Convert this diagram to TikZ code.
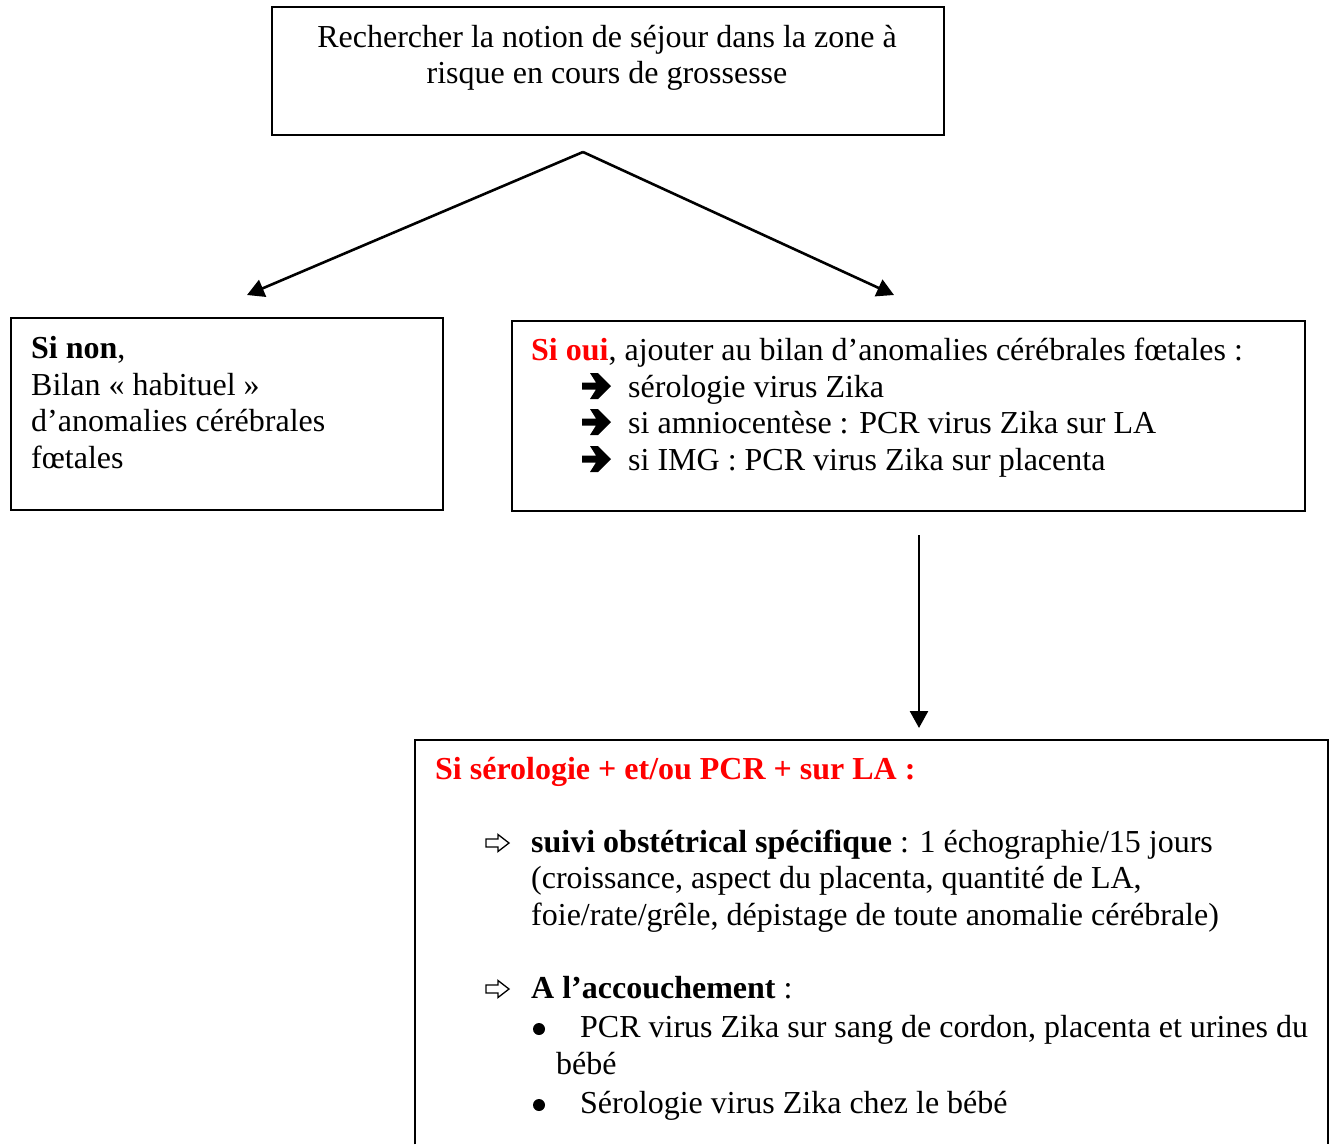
\documentclass[tikz,border=0pt]{standalone}
\usepackage{fontspec}
\setmainfont{Liberation Serif}
\usetikzlibrary{arrows.meta}
\definecolor{zred}{RGB}{255,0,0}
\tikzset{
  box/.style={draw=black, line width=2pt, inner sep=0pt, anchor=north west},
  txt/.style={anchor=base west, inner sep=0pt, font=\fontsize{32}{36.8}\selectfont},
  ctxt/.style={txt, anchor=base},
  conn/.style={line width=2.6pt, -{Triangle[length=17pt,width=18pt]}},
  heavyarrow/.pic={\fill[black] (0,-3.5) -- (14,-3.5) -- (8,-13) -- (16,-13) -- (29,0) -- (16,13) -- (8,13) -- (14,3.5) -- (0,3.5) -- cycle;},
  hollowarrow/.pic={\draw[black, line width=1.3pt, line join=miter] (0,-4) -- (12,-4) -- (12,-8.5) -- (23,0) -- (12,8.5) -- (12,4) -- (0,4) -- cycle;},
  bulletdot/.pic={\fill[black] (0,0) circle (6pt);},
}
\begin{document}
\begin{tikzpicture}[x=1pt,y=-1pt]
\useasboundingbox[fill=white] (0,0) rectangle (1336,1144);

% top box
\node[box, minimum width=672pt, minimum height=128pt] (top) at (271,6) {};
\node[ctxt] (t1) at (607,47) {Rechercher la notion de séjour dans la zone à};
\node[ctxt] (t2) at (607,83) {risque en cours de grossesse};

% connectors from top
\coordinate (split) at (583,152);
\coordinate (lend) at (247,295);
\coordinate (rend) at (894,295);
\draw[conn] (split) -- (lend);
\draw[conn] (split) -- (rend);

% left box
\node[box, minimum width=432pt, minimum height=192pt] (left) at (10,317) {};
\node[txt] (l1) at (31,358) {\textbf{Si non},};
\node[txt] (l2) at (31,395) {Bilan « habituel »};
\node[txt] (l3) at (31,431) {d’anomalies cérébrales};
\node[txt] (l4) at (31,468) {fœtales};

% right box
\node[box, minimum width=793pt, minimum height=190pt] (right) at (511,320) {};
\node[txt] (r1) at (531,360) {{\color{zred}\bfseries Si oui}, ajouter au bilan d’anomalies cérébrales fœtales :};
\pic at (582,386) {heavyarrow};
\node[txt] (r2) at (628,397) {sérologie virus Zika};
\pic at (582,422) {heavyarrow};
\node[txt] (r3) at (628,433) {si amniocentèse : PCR virus Zika sur LA};
\pic at (582,459) {heavyarrow};
\node[txt] (r4) at (628,470) {si IMG : PCR virus Zika sur placenta};

% vertical connector
\coordinate (vstart) at (919,535);
\coordinate (vend) at (919,728);
\draw[conn] (vstart) -- (vend);

% bottom box (open at the bottom edge of the picture)
\node[anchor=north west, inner sep=0pt, minimum width=913pt, minimum height=404pt] (bot) at (415,740) {};
\draw[line width=2pt] (bot.south west) -- (bot.north west) -- (bot.north east) -- (bot.south east);
\node[txt] (b0) at (435,779) {\color{zred}\bfseries Si sérologie + et/ou PCR + sur LA :};
\pic at (486,843) {hollowarrow};
\node[txt] (b1) at (531,852) {\textbf{suivi obstétrical spécifique} : 1 échographie/15 jours};
\node[txt] (b2) at (531,888) {(croissance, aspect du placenta, quantité de LA,};
\node[txt] (b3) at (531,925) {foie/rate/grêle, dépistage de toute anomalie cérébrale)};
\pic at (486,989) {hollowarrow};
\node[txt] (b4) at (531,998) {\textbf{A l’accouchement} :};
\pic at (539,1029) {bulletdot};
\node[txt] (b5) at (580,1037) {PCR virus Zika sur sang de cordon, placenta et urines du};
\node[txt] (b6) at (556,1074) {bébé};
\pic at (539,1105) {bulletdot};
\node[txt] (b7) at (580,1113) {Sérologie virus Zika chez le bébé};
\end{tikzpicture}
\end{document}
